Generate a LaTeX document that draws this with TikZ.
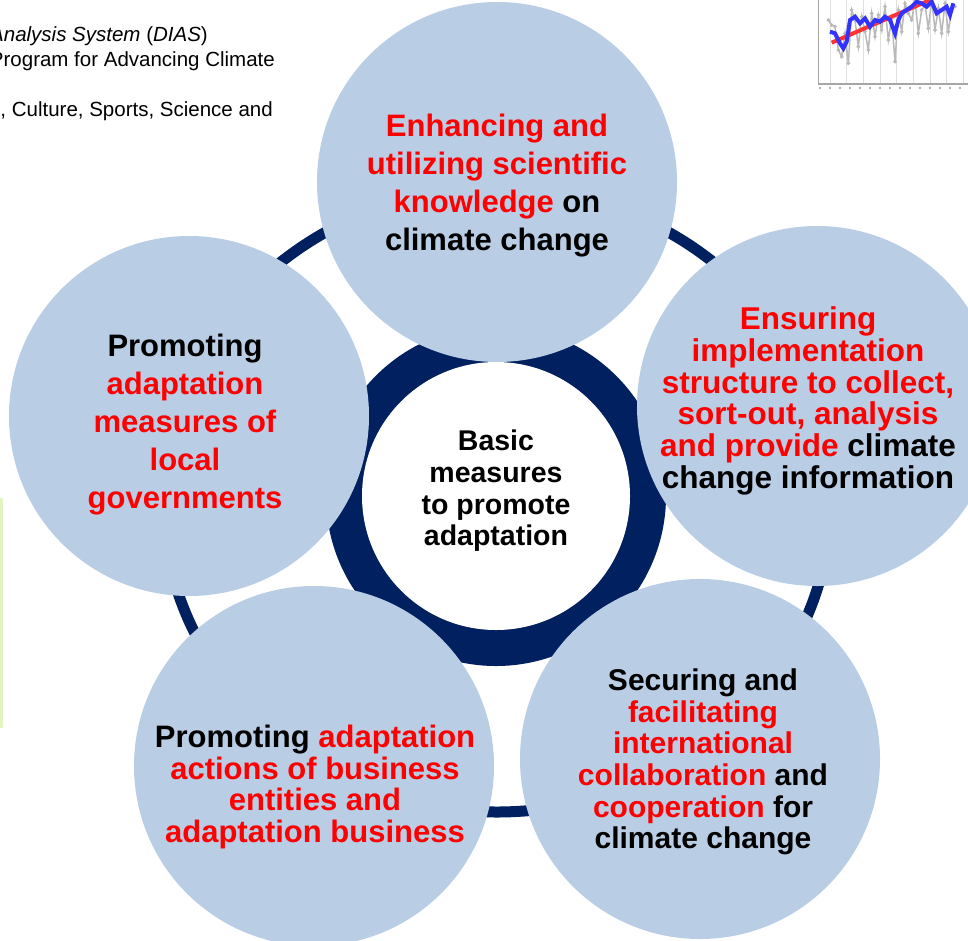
\documentclass[tikz,border=0pt]{standalone}
\usepackage{fontspec}
\setmainfont{Liberation Sans}
\usepackage{tikz}

\definecolor{bubble}{RGB}{185,205,229}
\definecolor{navy}{RGB}{0,32,96}
\definecolor{hired}{RGB}{255,0,0}
\definecolor{leaf}{RGB}{226,245,192}

\newcommand{\hl}[1]{\textcolor{hired}{#1}}

\tikzset{
  bubble/.style={circle,fill=bubble,inner sep=0pt,minimum size=360pt},
  txt/.style={align=center,font=\bfseries\fontsize{31}{38}\selectfont},
  txtsm/.style={align=center,font=\bfseries\fontsize{30}{31.6}\selectfont},
  note/.style={anchor=east,inner sep=0pt,font=\fontsize{20.5}{22}\selectfont}
}

\begin{document}
\begin{tikzpicture}[x=1pt,y=-1pt]
\useasboundingbox (0,0) rectangle (968,940);
\clip (0,0) rectangle (968,940);

% bits of the slide behind
\node[note] (n1) at (208,36) {\textit{Analysis System} (\textit{DIAS})};
\node[note] (n2) at (275,61) {Program for Advancing Climate};
\node[note] (n3) at (273,111) {, Culture, Sports, Science and};
\draw[leaf,line width=3pt,line cap=round] (1.5,499) -- (1.5,727);

\begin{scope}[shift={(780,0)},scale=1/3]
\foreach \x in {150,200,...,550} \draw[gray!25] (\x,0) -- (\x,250);
\draw[gray!70,line width=1.5pt] (115,0) -- (115,252) -- (570,252);
\foreach \x in {120,150,...,540} \draw[gray!60,line width=2pt] (\x,262) -- (\x,268);
\draw[gray!55,line width=1.5pt] plot[mark=*,mark size=3pt] coordinates {(145,60) (155,75) (165,80) (175,150) (185,170) (195,100) (205,190) (215,30) (225,60) (235,140) (245,50) (255,95) (265,150) (275,40) (285,110) (295,45) (305,90) (315,20) (325,120) (335,55) (345,185) (355,30) (365,95) (375,10) (385,40) (395,60) (405,0) (415,100) (425,30) (435,15) (445,85) (455,0) (465,90) (475,25) (485,100) (495,10) (505,95) (515,30) (525,20)};
\draw[red!80,line width=4pt] (155,128) -- (450,0);
\draw[blue!80,line width=4pt] plot coordinates {(150,95) (165,100) (180,130) (190,145) (200,125) (210,60) (225,50) (240,70) (255,55) (270,80) (285,60) (300,65) (315,50) (330,60) (345,100) (355,60) (365,40) (380,30) (395,20) (410,5) (425,10) (440,20) (455,5) (470,40) (485,30) (500,20) (510,45) (520,10)};
\end{scope}

% ring and core
\draw[navy,line width=11pt] (497,500) ellipse [x radius=334,y radius=312];
\node[circle,fill=navy,minimum size=340pt,inner sep=0pt] (ring) at (496,496) {};
\node[circle,fill=white,minimum size=268pt,inner sep=0pt] (core) at (496,496) {};

% the five measures
\node[bubble] (top) at (497,182) {};
\node[bubble] (right) at (817,406) {};
\node[bubble] (botr) at (700,759) {};
\node[bubble] (botl) at (314,766) {};
\node[bubble] (left) at (189,416) {};

\node[align=center,font=\bfseries\fontsize{28.5}{31.6}\selectfont] (coretxt) at (496,491) {Basic\\measures\\to promote\\adaptation};

\node[txt] (toptxt) at (497,186) {\hl{Enhancing and}\\\hl{utilizing scientific}\\\hl{knowledge} on\\climate change};
\node[txtsm,font=\bfseries\fontsize{31.5}{31.8}\selectfont] (righttxt) at (808,401) {\hl{Ensuring}\\\hl{implementation}\\\hl{structure to collect,}\\\hl{sort-out, analysis}\\\hl{and provide} climate\\change information};
\node[txtsm] (botrtxt) at (703,762) {Securing and\\\hl{facilitating}\\\hl{international}\\\hl{collaboration} and\\\hl{cooperation} for\\climate change};
\node[txtsm,font=\bfseries\fontsize{31}{31.5}\selectfont] (botltxt) at (315,787) {Promoting \hl{adaptation}\\\hl{actions of business}\\\hl{entities and}\\\hl{adaptation business}};
\node[txt] (lefttxt) at (185,425) {Promoting\\\hl{adaptation}\\\hl{measures of}\\\hl{local}\\\hl{governments}};

\end{tikzpicture}
\end{document}
